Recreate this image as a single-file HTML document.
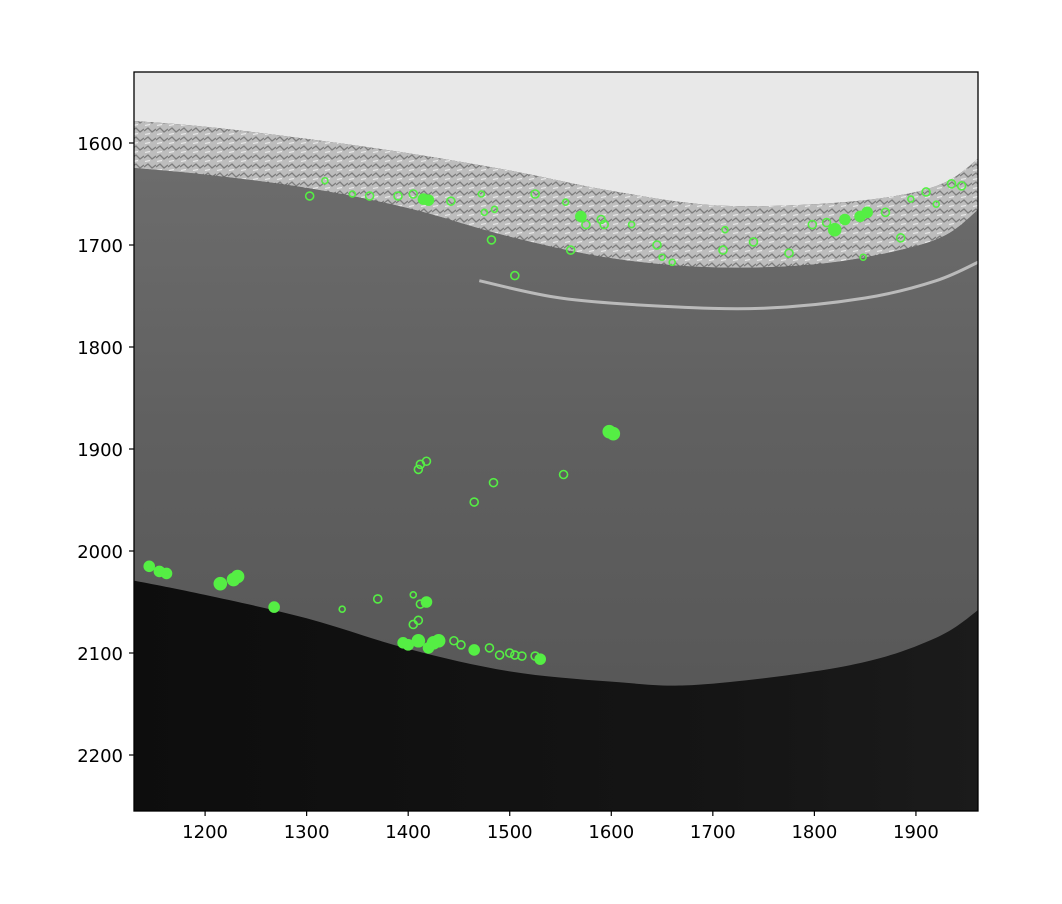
<!DOCTYPE html>
<html><head><meta charset="utf-8"><style>
html,body{margin:0;padding:0;background:#fff;}
svg{display:block;font-family:"DejaVu Sans","Liberation Sans",sans-serif;}
</style></head><body>
<svg id="chart" width="1062" height="904">
<defs>
<linearGradient id="bodyGrad" x1="0" y1="0" x2="0" y2="1">
<stop offset="0" stop-color="#6c6c6c"/><stop offset="0.5" stop-color="#606060"/><stop offset="1" stop-color="#585858"/>
</linearGradient>
<linearGradient id="blackGrad" x1="0" y1="0" x2="1" y2="0">
<stop offset="0" stop-color="#0d0d0d"/><stop offset="0.7" stop-color="#151515"/><stop offset="1" stop-color="#1b1b1b"/>
</linearGradient>
<pattern id="tex" width="12" height="9" patternUnits="userSpaceOnUse">
<rect width="12" height="9" fill="#bdbdbd"/>
<path d="M0 5 L4 2 L8 6 L12 3" stroke="#7d7d7d" stroke-width="1.3" fill="none"/>
<path d="M1 8.5 L6 7.5" stroke="#e8e8e8" stroke-width="1.2"/>
</pattern>
<clipPath id="axclip"><rect x="134" y="72" width="844" height="739"/></clipPath>
</defs>
<g id="img" clip-path="url(#axclip)"></g>
<g id="pts" clip-path="url(#axclip)"></g>
<rect x="134" y="72" width="844" height="739" fill="none" stroke="#000" stroke-width="1.3"/>
<g id="xt"></g>
<g id="yt"></g>
</svg>
<script>
const xTicks=[1200,1300,1400,1500,1600,1700,1800,1900];
const yTicks=[1600,1700,1800,1900,2000,2100,2200];
const bandTop=[[1125,1578],[1200,1584],[1300,1596],[1400,1610],[1500,1627],[1600,1647],[1700,1661],[1800,1660],[1880,1652],[1930,1638],[1965,1612]];
const bandBottom=[[1125,1624],[1200,1631],[1300,1644],[1400,1664],[1500,1692],[1600,1713],[1700,1722],[1800,1719],[1880,1706],[1930,1690],[1965,1662]];
const rimLine=[[1470,1735],[1550,1752],[1650,1760],[1750,1762],[1850,1752],[1920,1735],[1965,1715]];
const bodyBottom=[[1125,2028],[1200,2043],[1300,2066],[1400,2096],[1500,2118],[1600,2128],[1687,2131],[1835,2112],[1920,2085],[1965,2055]];
const ptsX=[1303,1318,1345,1362,1390,1405,1415,1420,1442,1472,1475,1485,1482,1525,1555,1560,1570,1575,1590,1593,1620,1645,1650,1660,1710,1712,1740,1775,1798,1812,1820,1830,1845,1852,1870,1885,1848,1895,1910,1920,1935,1945,1505,1598,1602,1412,1418,1410,1553,1484,1465,1145,1155,1162,1215,1228,1232,1268,1335,1370,1405,1412,1418,1410,1405,1395,1400,1410,1425,1430,1445,1452,1465,1480,1490,1500,1505,1512,1525,1530,1420];
const ptsY=[1652,1637,1650,1652,1652,1650,1655,1656,1657,1650,1668,1665,1695,1650,1658,1705,1672,1680,1675,1680,1680,1700,1712,1717,1705,1685,1697,1708,1680,1678,1685,1675,1672,1668,1668,1693,1712,1655,1648,1660,1640,1642,1730,1883,1885,1915,1912,1920,1925,1933,1952,2015,2020,2022,2032,2028,2025,2055,2057,2047,2043,2052,2050,2068,2072,2090,2092,2088,2090,2088,2088,2092,2097,2095,2102,2100,2102,2103,2103,2106,2095];
const ptsR=[4,3,3,4,4,4,5,5,4,3,3,3,4,4,3,4,5,4,4,4,3,4,3,3,4,3,4,4,4,4,6,5,5,5,4,4,3,3,4,3,4,4,4,6,6,4,4,4,4,4,4,5,5,5,6,6,6,5,3,4,3,4,5,4,4,5,5,6,6,6,4,4,5,4,4,4,4,4,4,5,5];
const NS="http://www.w3.org/2000/svg";
const X=v=>134+(v-1130)*1.0155, Y=v=>143+(v-1600)*1.02;
function mk(tag,attrs,parent){const e=document.createElementNS(NS,tag);for(const k in attrs)e.setAttribute(k,attrs[k]);parent.appendChild(e);return e;}
function smooth(arr,start){
 const p=arr.map(a=>[X(a[0]),Y(a[1])]);
 let d=(start?'M':'L')+p[0][0].toFixed(1)+' '+p[0][1].toFixed(1);
 for(let i=0;i<p.length-1;i++){
  const p0=p[i-1]||p[i],p1=p[i],p2=p[i+1],p3=p[i+2]||p2;
  const c1=[p1[0]+(p2[0]-p0[0])/6,p1[1]+(p2[1]-p0[1])/6];
  const c2=[p2[0]-(p3[0]-p1[0])/6,p2[1]-(p3[1]-p1[1])/6];
  d+=' C'+c1.map(v=>v.toFixed(1)).join(' ')+' '+c2.map(v=>v.toFixed(1)).join(' ')+' '+p2[0].toFixed(1)+' '+p2[1].toFixed(1);
 }
 return d;
}
const img=document.getElementById('img');
let e=mk('rect',{x:134,y:72,width:844,height:739,fill:'url(#blackGrad)'},img);


e=mk('path',{d:smooth(bandBottom,true)+' L1000 '+Y(1662)+' '+smooth(bodyBottom.slice().reverse(),false)+' Z',fill:'url(#bodyGrad)'},img);


e=mk('path',{d:smooth(rimLine,true),fill:'none',stroke:'#cfcfcf','stroke-width':3,opacity:0.8},img);


e=mk('path',{d:smooth(bandTop,true)+' '+smooth(bandBottom.slice().reverse(),false)+' Z',fill:'url(#tex)'},img);


e=mk('path',{d:'M120 60 L1000 60 L1000 '+Y(1612)+' '+smooth(bandTop.slice().reverse(),false)+' Z',fill:'#e8e8e8'},img);


const pts=document.getElementById('pts');
for(let i=0;i<ptsX.length;i++){
 const c=mk('circle',{cx:X(ptsX[i]),cy:Y(ptsY[i]),r:ptsR[i],fill:ptsR[i]>=5?'#55ee44':'none',stroke:'#55ee44','stroke-width':1.6},pts);
 
 
}
const xt=document.getElementById('xt');
xTicks.forEach(v=>{
 mk('line',{x1:X(v),x2:X(v),y1:811,y2:816,stroke:'#000','stroke-width':1.2},xt);
 const t=mk('text',{x:X(v),y:838,'text-anchor':'middle','font-size':18},xt);
 t.textContent=v;
 
 
});
const yt=document.getElementById('yt');
yTicks.forEach(v=>{
 mk('line',{x1:129,x2:134,y1:Y(v),y2:Y(v),stroke:'#000','stroke-width':1.2},yt);
 const t=mk('text',{x:123,y:Y(v)+7,'text-anchor':'end','font-size':18},yt);
 t.textContent=v;
 
 
});
</script>
</body></html>
